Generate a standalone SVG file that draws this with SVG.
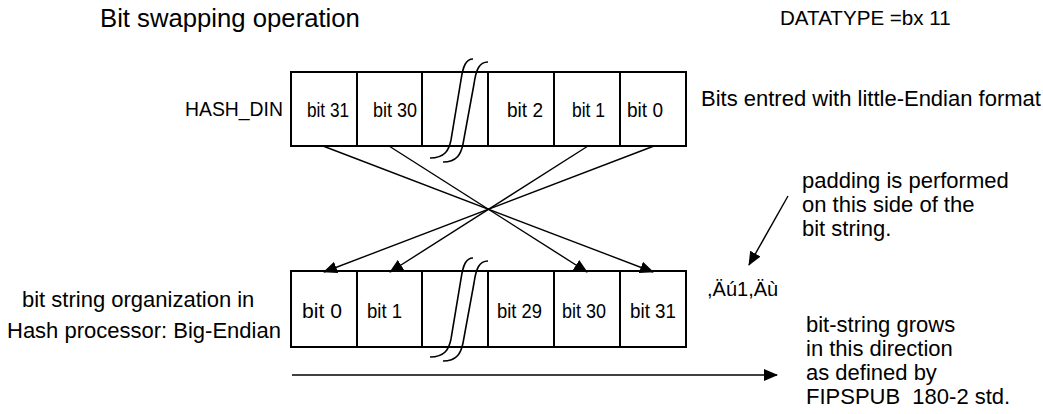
<svg xmlns="http://www.w3.org/2000/svg" width="1043" height="414" viewBox="0 0 1043 414">
<style>
text{font-family:"Liberation Sans",Arial,Helvetica,sans-serif;fill:#000}
.lbl{font-size:22px}
.cell{font-size:20.5px}
.box{fill:#fff;stroke:#000;stroke-width:2}
.brk{fill:none;stroke:#000;stroke-width:1.6}
.ln{fill:none;stroke:#000;stroke-width:1.4}
</style>
<defs>
<marker id="ah" viewBox="0 0 14 12" refX="13" refY="6" markerWidth="14" markerHeight="12" markerUnits="userSpaceOnUse" orient="auto">
<path d="M0,0 L14,6 L0,12 Z" fill="#000"/>
</marker>
</defs>
<g id="title">
<text x="100" y="27" style="font-size:25.7px">Bit swapping operation</text>
<text x="780" y="25" style="font-size:20.6px">DATATYPE =bx 11</text>
</g>
<g id="hash-din">
<rect class="box" x="291" y="72" width="395" height="74"/>
<path class="ln" d="M357,72V146M422,72V146M488,72V146M554,72V146M620,72V146" style="stroke-width:2"/>
<text class="cell" x="307" y="117" textLength="42" lengthAdjust="spacingAndGlyphs">bit 31</text>
<text class="cell" x="373" y="117" textLength="44" lengthAdjust="spacingAndGlyphs">bit 30</text>
<text class="cell" x="507" y="117" textLength="36" lengthAdjust="spacingAndGlyphs">bit 2</text>
<text class="cell" x="572" y="117" textLength="33" lengthAdjust="spacingAndGlyphs">bit 1</text>
<text class="cell" x="627" y="117" textLength="36" lengthAdjust="spacingAndGlyphs">bit 0</text>
<path class="brk" d="M430,158 C445,158 449,150 451,140 L461,80 C463,66 466,59 473,59"/>
<path class="brk" d="M443,162 C457,162 461,154 463,144 L474,84 C476,70 479,62 488,62"/>
<text x="185" y="116" style="font-size:20.5px" textLength="98" lengthAdjust="spacingAndGlyphs">HASH_DIN</text>
</g>
<g id="hash-proc">
<rect class="box" x="291" y="271" width="395" height="76"/>
<path class="ln" d="M357,271V347M422,271V347M488,271V347M554,271V347M620,271V347" style="stroke-width:2"/>
<text class="cell" x="302" y="318" textLength="40" lengthAdjust="spacingAndGlyphs">bit 0</text>
<text class="cell" x="367" y="318" textLength="35" lengthAdjust="spacingAndGlyphs">bit 1</text>
<text class="cell" x="497" y="318" textLength="45" lengthAdjust="spacingAndGlyphs">bit 29</text>
<text class="cell" x="562" y="318" textLength="44" lengthAdjust="spacingAndGlyphs">bit 30</text>
<text class="cell" x="630" y="318" textLength="46" lengthAdjust="spacingAndGlyphs">bit 31</text>
<path class="brk" d="M430,357 C445,357 449,349 451,339 L461,279 C463,265 466,258 473,258"/>
<path class="brk" d="M443,361 C457,361 461,353 463,343 L474,283 C476,269 479,261 488,261"/>
<text class="lbl" x="22" y="307">bit string organization in</text>
<text class="lbl" x="7" y="338">Hash processor: Big-Endian</text>
</g>
<g id="notes">
<text class="lbl" x="701" y="106">Bits entred with little-Endian format</text>
<text class="lbl" x="802" y="188">padding is performed</text>
<text class="lbl" x="802" y="212">on this side of the</text>
<text class="lbl" x="802" y="236">bit string.</text>
<text x="707" y="296" style="font-size:20px">,Äú1,Äù</text>
<text class="lbl" x="806" y="332">bit-string grows</text>
<text class="lbl" x="806" y="356">in this direction</text>
<text class="lbl" x="806" y="380">as defined by</text>
<text class="lbl" x="806" y="404" xml:space="preserve">FIPSPUB  180-2 std.</text>
</g>
<g id="connectors">
<line class="ln" x1="323" y1="146" x2="653" y2="272" marker-end="url(#ah)"/>
<line class="ln" x1="389" y1="146" x2="587" y2="272" marker-end="url(#ah)"/>
<line class="ln" x1="588" y1="146" x2="390" y2="272" marker-end="url(#ah)"/>
<line class="ln" x1="654" y1="146" x2="324" y2="272" marker-end="url(#ah)"/>
<line class="ln" x1="788" y1="196" x2="749" y2="265" marker-end="url(#ah)"/>
<line class="ln" x1="292" y1="375" x2="777" y2="375" marker-end="url(#ah)"/>
</g>
</svg>
